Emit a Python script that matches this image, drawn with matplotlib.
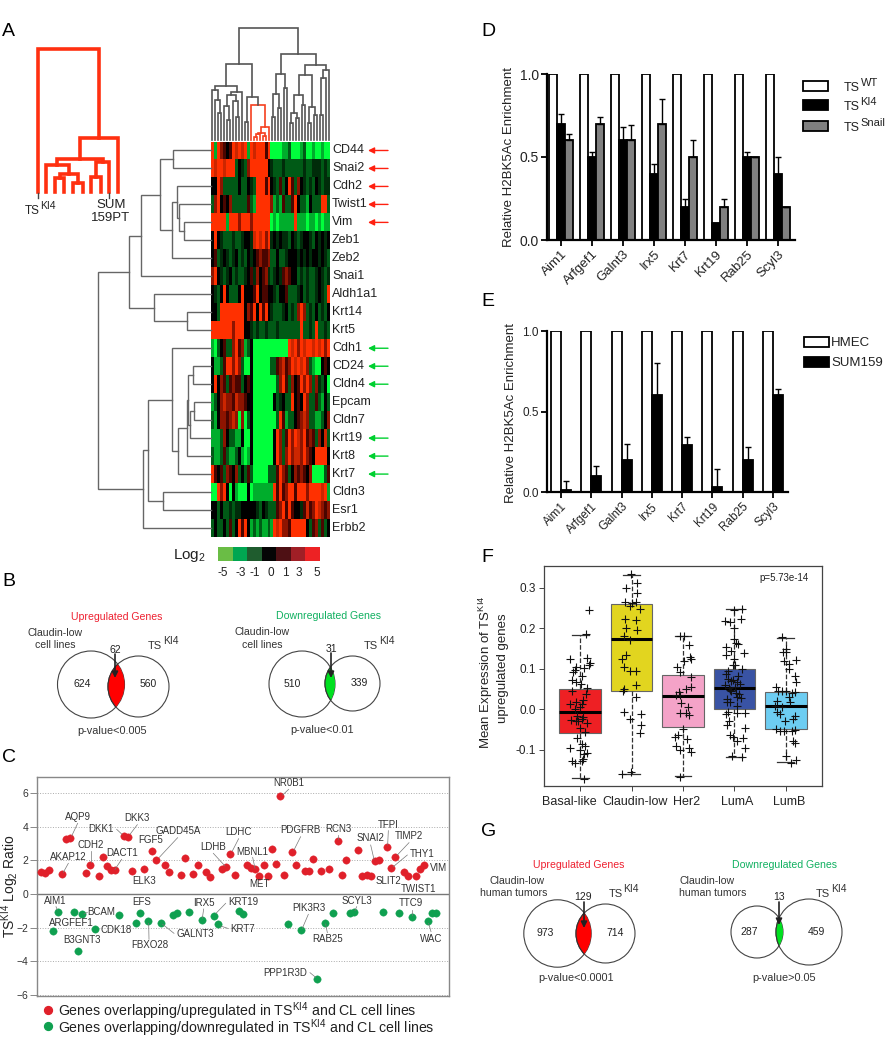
# -*- coding: utf-8 -*-
import matplotlib
matplotlib.use('Agg')
import matplotlib.pyplot as plt
import numpy as np
from matplotlib.colors import ListedColormap, BoundaryNorm
from matplotlib.patches import Circle, Rectangle

plt.rcParams['font.family'] = ['Liberation Sans', 'DejaVu Sans']
plt.rcParams['mathtext.fontset'] = 'custom'
plt.rcParams['mathtext.rm'] = 'Liberation Sans'
plt.rcParams['mathtext.default'] = 'regular'

W, H = 894, 1050
TXT = '#222222'

#%% Panel A data
genes = ['CD44', 'Snai2', 'Cdh2', 'Twist1', 'Vim', 'Zeb1', 'Zeb2', 'Snai1', 'Aldh1a1', 'Krt14', 'Krt5',
         'Cdh1', 'CD24', 'Cldn4', 'Epcam', 'Cldn7', 'Krt19', 'Krt8', 'Krt7', 'Cldn3', 'Esr1', 'Erbb2']
up_arrows = ['CD44', 'Snai2', 'Cdh2', 'Twist1', 'Vim']
down_arrows = ['Cdh1', 'CD24', 'Cldn4', 'Krt19', 'Krt8', 'Krt7']

# one letter per column: A..D greens, 0 black, 1..3 and R reds
heat_rows = [
    'RBR21 01R3R 3RBR3 RRR1R AAAAB BCAAA BCAAB AABAA',
    'R3RR3 RRRC0 DC2RR RRRR0 DCCCD CCCCC CDCCD DDCDC',
    '00R2C CCCC0 CC0DC RRR1R 0DC1C 0R1C2 0DCDC 0DCDD',
    'C2R01 02CCC CC1CB RRRRR 2BCB1 CC1R0 CCB0C CCRRC',
    'RRRRR BRRR2 RRR2R RRRRR ABABB BBBRB BBABB ABABB',
    '0R0DC CCDCC D00D3 R3R2R D0D0D DC0DC D00DC 0D0D0',
    '01CD0 DCD0C DC0D0 12112 CC0CC D000D 0D0D0 0D0DC',
    '2R0DC D0CDC CD01D 2012D CD0D1 2100C DCDCC D0DCD',
    '0DC0R 0CCC0 R0001 R0110 0DC00 1CCCD 0CDCC D0DCR',
    '00CRR RRRRR R021R 0R1R0 DCCCD 0CDC2 R2CDC 0CDC0',
    'RRRRR RR2RR R00DC DCCDC CCDCC CCCCC RCCDC RCCDC',
    'BAC01 CC2R1 2BC0A AAAAA AAAAA AR3R2 R3RR3 R3R2R',
    '0BBC1 RR2R2 CAA0A AAAAA CC123 12R3R 3R2CB AA010',
    '0R021 C1211 C010A AAAAA AAC2R 1C201 R2R2C 2DC0A',
    'BC023 22132 2100A AAAAA A0CD0 CCR01 0R2CC 1CB0C',
    'CB022 1232A 2AC0A AAAAA AACR1 BCC01 232CC BBC02',
    'BBBC2 0CCBB 0AA0A AAAAA A0R2C 1R2R3 2R121 C203C',
    'CBBC1 CBBC0 BAB0A AAAAA A0R2C 2R233 2R210 RRRR0',
    'R101C 2102C 0C1CA AAAAC CC1R2 1C021 2102A AAAC1',
    'AAR2R 0A0BA AA0AB BBBBB BR1R1 2RR1R RR2RR RR3RB',
    '00C0C CDCDD 00000 DC0DC CC12R 1R100 D1312 R3212',
    'C0CC0 C1C0R 1R0BC BCBBC BR3R2 21RRR RR0C1 2C1C0',
]
heat_levels = 'ABCD0123R'
heat_colors = ['#00ff3c', '#00ad2c', '#005a16', '#002c0a', '#000000', '#4a0500', '#8e1400', '#cc2600', '#ff3000']

# dendrogram merges: child a, child b, height in figure pixels
row_merges = [(0, 1, 173), (4, 5, 184), (3, 23, 179), (2, 24, 177), (25, 6, 172), (22, 26, 160), (27, 7, 141),
              (9, 10, 187), (8, 29, 154), (28, 30, 129), (14, 15, 194), (12, 13, 193), (32, 16, 190), (33, 34, 188),
              (35, 17, 187), (36, 18, 178), (11, 37, 172), (19, 20, 163), (38, 39, 148), (40, 21, 143), (31, 41, 98)]
col_merges = [(2, 3, 113), (1, 40, 100), (0, 41, 90), (5, 6, 120), (4, 43, 106), (8, 9, 117), (7, 45, 101),
              (44, 46, 95), (47, 10, 92), (42, 48, 86), (11, 12, 122), (14, 15, 137), (51, 16, 134), (17, 18, 136),
              (52, 53, 133), (54, 19, 127), (13, 55, 105), (50, 56, 97), (49, 57, 64), (20, 21, 117), (22, 23, 108),
              (59, 60, 94), (24, 25, 88), (61, 62, 74), (26, 27, 123), (28, 29, 118), (64, 65, 113), (30, 31, 105),
              (66, 67, 95), (32, 33, 123), (34, 35, 115), (69, 70, 107), (68, 71, 75), (36, 37, 115), (73, 38, 78),
              (74, 39, 70), (72, 75, 65), (63, 76, 54), (58, 77, 28)]
col_red_nodes = [51, 52, 53, 54, 55, 56]
inset_leaves = [38, 46, 55, 64, 73, 83, 91, 101, 109, 118]
inset_merges = [(2, 3, 178), (4, 5, 183), (10, 11, 174), (1, 12, 165), (6, 7, 177), (14, 8, 162), (13, 15, 159),
                (16, 9, 138), (0, 17, 49)]
scale_colors = ['#6abd45', '#00a651', '#1f5c2e', '#050505', '#4e1014', '#a01f26', '#ed2224']
scale_labels = ['-5', '-3', '-1', '0', '1', '3', '5']
scale_label_x = [223, 241, 255, 271, 285, 299, 317]

#%% Panel C data (x = position along the gene list)
up_x = [123, 136, 149, 186, 198, 210, 260, 272, 297, 309, 322, 334, 347, 372, 384, 396, 433, 458, 470, 495, 507, 544,
        557, 581, 594, 618, 631, 668, 680, 692, 705, 742, 754, 767, 779, 792, 804, 816, 828, 841, 853, 878, 890, 915,
        927, 939, 964, 989, 1014, 1026, 1038, 1076, 1088, 1101, 1113, 1125, 1137, 1162, 1175, 1187, 1212, 1224, 1248,
        1261, 1273]
up_y = [1.3, 1.25, 1.4, 1.2, 3.25, 3.3, 1.25, 1.75, 1.05, 2.2, 1.65, 1.45, 1.4, 3.45, 3.4, 1.35, 1.5, 2.55, 2.05, 1.7,
        1.3, 1.15, 2.15, 1.2, 1.7, 1.3, 1.03, 1.5, 1.6, 2.4, 1.15, 1.7, 1.55, 1.5, 1.1, 1.75, 1.1, 2.7, 1.8, 5.8, 1.15,
        2.5, 1.7, 1.35, 1.38, 2.1, 1.35, 1.5, 3.15, 1.15, 2.05, 2.6, 1.1, 1.15, 1.05, 1.95, 2.0, 2.8, 1.55, 2.2, 1.3,
        1.05, 1.05, 1.5, 1.75]
down_x = [161, 174, 223, 236, 248, 285, 359, 408, 421, 446, 483, 519, 532, 569, 606, 643, 656, 717, 730, 866, 903, 952,
          977, 1001, 1050, 1063, 1150, 1199, 1236, 1285, 1298, 1310]
down_y = [-2.2, -1.05, -1.05, -3.4, -1.2, -2.1, -1.25, -1.7, -1.1, -1.6, -1.7, -1.25, -1.12, -1.05, -1.55, -1.3, -1.8,
          -1.03, -1.18, -1.8, -2.15, -5.05, -1.7, -1.1, -1.15, -1.07, -1.05, -1.12, -1.35, -1.6, -1.12, -1.12]
c_labels = [('NR0B1', 866, 128), ('AQP9', 235, 231), ('DKK3', 412, 234), ('DKK1', 303, 268), ('CDH2', 272, 314),
            ('GADD45A', 535, 274), ('FGF5', 453, 299), ('AKAP12', 205, 350), ('DACT1', 365, 339), ('LDHC', 716, 277),
            ('LDHB', 640, 322), ('MBNL1', 756, 335), ('PDGFRB', 901, 271), ('RCN3', 1014, 267), ('TFPI', 1165, 254),
            ('TIMP2', 1227, 288), ('SNAI2', 1111, 295), ('THY1', 1267, 342), ('VIM', 1317, 385), ('ELK3', 433, 424),
            ('MET', 778, 431), ('SLIT2', 1166, 422), ('TWIST1', 1257, 446), ('AIM1', 166, 483), ('EFS', 426, 487),
            ('BCAM', 305, 517), ('IRX5', 611, 489), ('KRT19', 730, 487), ('ARGFEF1', 215, 548), ('CDK18', 347, 569),
            ('B3GNT3', 247, 599), ('GALNT3', 585, 581), ('FBXO28', 448, 616), ('KRT7', 727, 566), ('PIK3R3', 927, 505),
            ('SCYL3', 1070, 483), ('TTC9', 1233, 490), ('RAB25', 982, 598), ('WAC', 1292, 596), ('PPP1R3D', 856, 698)]
c_leaders = [(866, 148, 848, 165), (233, 250, 215, 288), (412, 254, 390, 283), (350, 268, 366, 283),
             (273, 333, 273, 366), (205, 370, 190, 397), (365, 358, 345, 388), (533, 293, 478, 352),
             (716, 296, 697, 333), (640, 340, 675, 378), (758, 352, 765, 385), (902, 290, 882, 330),
             (1014, 284, 1014, 298), (1165, 272, 1163, 315), (1227, 308, 1192, 345), (1112, 315, 1122, 358),
             (1222, 345, 1180, 380), (168, 500, 172, 510), (611, 507, 607, 535), (677, 490, 648, 520),
             (262, 517, 252, 522), (522, 580, 488, 553), (447, 598, 446, 550), (683, 565, 662, 558),
             (925, 523, 907, 565), (1070, 500, 1065, 512), (1236, 510, 1236, 525), (982, 578, 977, 552),
             (1293, 575, 1286, 550), (930, 698, 947, 712)]

#%% Panels D, E data
chip_genes = ['Aim1', 'Arfgef1', 'Galnt3', 'Irx5', 'Krt7', 'Krt19', 'Rab25', 'Scyl3']
d_wt = [1, 1, 1, 1, 1, 1, 1, 1]
d_ki4 = [0.7, 0.5, 0.6, 0.4, 0.2, 0.1, 0.5, 0.4]
d_snail = [0.6, 0.7, 0.6, 0.7, 0.5, 0.2, 0.5, 0.2]
d_ki4_err = [0.06, 0.03, 0.08, 0.06, 0.05, 0, 0.03, 0.1]
d_snail_err = [0.04, 0.04, 0.09, 0.15, 0.1, 0.05, 0, 0]
e_hmec = [1, 1, 1, 1, 1, 1, 1, 1]
e_sum = [0.01, 0.1, 0.2, 0.6, 0.29, 0.03, 0.2, 0.6]
e_sum_err = [0.06, 0.06, 0.1, 0.2, 0.05, 0.11, 0.08, 0.04]

#%% Panel F data
subtypes = ['Basal-like', 'Claudin-low', 'Her2', 'LumA', 'LumB']
sub_colors = ['#ee2024', '#e2d51f', '#f4a3c8', '#3953a4', '#6dcdf2']
sub_label_x = [569, 635, 687, 737, 789]
box_q1 = [-0.06, 0.046, -0.045, 0.0, -0.05]
box_med = [-0.007, 0.173, 0.032, 0.053, 0.007]
box_q3 = [0.05, 0.26, 0.085, 0.1, 0.043]
box_lo = [-0.17, -0.16, -0.166, -0.118, -0.13]
box_hi = [0.183, 0.332, 0.182, 0.247, 0.177]

basal_off = [.17, .12, -.19, .14, .2, .18, -.07, .08, -.1, -.14, .03, -.15, -.07, .01, .14, -.15, .11, .06, -.08, .03,
             -.19, 0, -.1, -.06, .06, .03, -.03, -.07, -.17, .14, 0, .09, -.06, .03, .09, -.2, 0, .14, .07, -.15, -.1,
             .03, .06, .07]
basal_val = [.246, .185, .125, .127, .114, .108, .104, .102, .096, .092, .081, .073, .067, .061, .053, .044, .038, .023,
             .017, .013, .012, .005, .001, -.016, -.02, -.024, -.03, -.03, -.028, -.035, -.047, -.057, -.071, -.086,
             -.092, -.097, -.102, -.109, -.112, -.127, -.134, -.127, -.123, -.172]
claudin_off = [-.01, .11, -.1, .11, -.12, 0, .08, -.02, .17, -.12, .08, -.11, .11, -.14, -.03, -.1, -.19, -.15, -.03,
               .08, .08, -.14, -.16, .08, -.14, .18, -.02, .19, .16, -.01, -.19]
claudin_val = [.333, .312, .3, .287, .266, .262, .265, .254, .248, .222, .22, .201, .195, .182, .172, .135, .123, .104,
               .094, .094, .059, .05, .045, .031, -.006, -.013, -.025, -.039, -.059, -.155, -.16]
her2_off = [.02, -.06, .11, .14, .15, .01, -.11, -.05, .16, .05, -.08, .16, -.13, -.06, -.03, .1, -.05, .12, .06, 0,
            -.16, -.1, .08, -.13, .12, -.06, .16, -.05]
her2_val = [.18, .182, .158, .13, .124, .118, .104, .092, .079, .05, .042, .054, .036, .034, .015, .005, -.01, -.014,
            -.01, -.049, -.068, -.063, -.075, -.092, -.096, -.102, -.107, -.167]
luma_off = [.15, 0, .12, -.19, -.09, -.01, -.01, .03, .07, -.16, -.06, .18, -.17, -.01, -.03, .15, .01, -.16, -.12,
            -.06, .04, -.19, -.1, .01, -.06, .09, .04, -.14, -.09, .05, -.17, -.12, .2, .04, -.1, -.14, .2, -.09, -.03,
            .17, .05, .2, -.04, .14, -.13, .06, -.02, .1, -.08, .03, -.15, .12]
luma_val = [.247, .244, .224, .219, .215, .201, .174, .163, .16, .153, .144, .139, .133, .125, .108, .1, .108, .087,
            .075, .069, .067, .059, .053, .054, .046, .038, .031, .026, .017, .009, -.013, -.007, -.01, -.01, -.03,
            -.04, -.046, -.063, -.069, -.071, -.079, -.096, -.116, -.119, .095, .083, .072, .061, .048, .039, .018,
            .028]
lumb_off = [-.07, 0, -.05, .01, .19, -.04, .05, .05, .18, .19, -.19, -.15, -.08, 0, .11, .18, .05, -.17, .08, -.21,
            -.08, -.17, -.12, .18, .14, -.02, -.19, -.12, -.04, .11, .18, .14, .18, .01, .19, .09]
lumb_val = [.178, .149, .141, .141, .122, .119, .112, .1, .082, .067, .054, .046, .045, .046, .04, .042, .03, .021,
            .017, .009, .005, -.007, -.013, -.018, -.024, -.03, -.049, -.054, -.055, -.053, -.051, -.078, -.084, -.116,
            -.125, -.133]

#%% Helpers
fig = plt.figure(figsize=(W / 100, H / 100), dpi=100, facecolor='white')


def px_axes(l, t, r, b):
    return fig.add_axes([l / W, 1 - b / H, (r - l) / W, (b - t) / H])


over = fig.add_axes([0, 0, 1, 1], zorder=10)
over.set_xlim(0, W)
over.set_ylim(H, 0)
over.axis('off')
over.patch.set_alpha(0)


def txt(x, y, s, size=9, color=TXT, ha='center', va='center', **kw):
    return over.text(x, y, s, fontsize=size, color=color, ha=ha, va=va, **kw)


def ts_label(x, y, sup, size=8.5, sup_size=7.5, color=TXT):
    # TS with a superscript nearly as large as the base text
    t = txt(x, y, 'TS', size=size, ha='left', color=color)
    box = t.get_window_extent(fig.canvas.get_renderer())
    txt(box.x1 + 0.5, y - 5, sup, size=sup_size, ha='left', color=color)


def draw_tree(leaf_pos, merges, base, vertical=True, color='#555555', lw=1.0, red_nodes=(), red='#f04a30'):
    # leaf_pos along the axis, base = height of the leaves
    pos = {i: p for i, p in enumerate(leaf_pos)}
    hgt = {i: base for i in range(len(leaf_pos))}
    n = len(leaf_pos)
    for k, (a, b, h) in enumerate(merges):
        node = n + k
        xs = [pos[a], pos[a], pos[b], pos[b]]
        ys = [hgt[a], h, h, hgt[b]]
        c = red if node in red_nodes else color
        if vertical:
            over.plot(xs, ys, color=c, lw=lw, solid_joinstyle='miter')
        else:
            over.plot(ys, xs, color=c, lw=lw, solid_joinstyle='miter')
        pos[node] = (pos[a] + pos[b]) / 2
        hgt[node] = h


def venn(c1, r1, c2, r2, fill, arrow_x, arrow_top, arrow_tip):
    a = Circle(c1, r1, fc='none', ec='#444444', lw=0.8)
    b = Circle(c2, r2, fc='none', ec='#444444', lw=0.8)
    over.add_patch(a)
    over.add_patch(b)
    lens = Circle(c2, r2, fc=fill, ec='#333333', lw=0.8)
    over.add_patch(lens)
    lens.set_clip_path(Circle(c1, r1, transform=over.transData))
    over.annotate('', xy=(arrow_x, arrow_tip), xytext=(arrow_x, arrow_top),
                  arrowprops=dict(arrowstyle='-|>', color='#222222', lw=1.2, mutation_scale=9,
                                  shrinkA=0, shrinkB=0))


#%% Panel A
for s, lx, ly in [('A', 2, 31), ('B', 2, 582), ('C', 2, 757), ('D', 481, 31), ('E', 481, 302), ('F', 481, 557),
                  ('G', 481, 832)]:
    txt(lx, ly, s, size=14, ha='left', color='black')

heat = np.array([[heat_levels.index(ch) for ch in row.replace(' ', '')] for row in heat_rows])
ax_heat = px_axes(211, 141.5, 330, 537)
ax_heat.imshow(heat, aspect='auto', cmap=ListedColormap(heat_colors),
               norm=BoundaryNorm(np.arange(-0.5, 9.5), 9), interpolation='nearest')
ax_heat.axis('off')

row_h = (537 - 141.5) / len(genes)
row_y = [141.5 + row_h * (i + 0.5) for i in range(len(genes))]
col_x = [211 + 119 / 40 * (i + 0.5) for i in range(40)]
draw_tree(row_y, row_merges, 211, vertical=False, color='#666666', lw=1.0)
draw_tree(col_x, col_merges, 140, color='#555555', lw=1.2, red_nodes=col_red_nodes, red='#f5401f')
draw_tree(inset_leaves, inset_merges, 192, color='#ff3010', lw=2.6)
for lx in [38, 109]:
    over.plot([lx, lx], [193, 198], color='#444444', lw=1)
ts_label(25, 211, 'KI4')
txt(111, 205, 'SUM', size=9.5)
txt(111, 218, '159PT', size=9.5)

for i, g in enumerate(genes):
    txt(332, row_y[i], g, size=9, ha='left')
    if g in up_arrows or g in down_arrows:
        col = '#ff2010' if g in up_arrows else '#00d030'
        over.annotate('', xy=(368, row_y[i]), xytext=(388, row_y[i]),
                      arrowprops=dict(arrowstyle='-|>', color=col, lw=1.0, mutation_scale=9, shrinkA=0, shrinkB=0))

for i, c in enumerate(scale_colors):
    cell = (320 - 218) / len(scale_colors)
    over.add_patch(Rectangle((218 + i * cell, 547), cell, 14, fc=c, ec='none'))
for x, s in zip(scale_label_x, scale_labels):
    txt(x, 573, s, size=8.5)
txt(173, 556, 'Log$_2$', size=11, ha='left')

#%% Panel B
txt(117, 617, 'Upregulated Genes', size=7.6, color='#ee2030')
txt(55, 633, 'Claudin-low', size=7.6, color='#333333')
txt(55, 645, 'cell lines', size=7.6, color='#333333')
ts_label(148, 646, 'KI4', size=8, color='#333333')
venn((91, 684.5), 33.5, (138.5, 686.5), 30.5, '#ff0000', 115, 654, 678)
txt(115, 650, '62', size=7.5)
txt(82, 684, '624', size=7.5)
txt(148, 684, '560', size=7.5)
txt(112, 731, 'p-value<0.005', size=7.8, color='#333333')

txt(328, 616, 'Downregulated Genes', size=7.6, color='#10b060')
txt(262, 632, 'Claudin-low', size=7.6, color='#333333')
txt(262, 645, 'cell lines', size=7.6, color='#333333')
ts_label(364, 646, 'KI4', size=8, color='#333333')
venn((302, 684), 33, (352.5, 683.5), 27.5, '#00e020', 331, 653, 678)
txt(331, 649, '31', size=7.5)
txt(292, 684, '510', size=7.5)
txt(359, 683, '339', size=7.5)
txt(322, 730, 'p-value<0.01', size=7.8, color='#333333')

#%% Panel C
ax_c = px_axes(37, 777, 449, 996)
ax_c.set_xlim(112, 1348)
ax_c.set_ylim(-6.05, 6.95)
for v in [-6, -4, -2, 2, 4, 6]:
    ax_c.axhline(v, color='#aaaaaa', lw=0.7, ls=':', zorder=0)
ax_c.axhline(0, color='#777777', lw=1.0, zorder=1)
ax_c.scatter(up_x, up_y, s=28, color='#e0202a', edgecolor='#e0202a', lw=0.3, zorder=3)
ax_c.scatter(down_x, down_y, s=28, color='#0fa050', edgecolor='#0fa050', lw=0.3, zorder=3)
ax_c.set_xticks([])
ax_c.set_yticks([-6, -4, -2, 0, 2, 4, 6])
ax_c.tick_params(axis='y', labelsize=7.5, length=5, width=0.7, color='#888888', labelcolor='#333333', pad=1)
for sp in ax_c.spines.values():
    sp.set_color('#888888')
    sp.set_linewidth(1.0)
for name, zx, zy in c_labels:
    txt(zx / 3, zy / 3 + 740, name, size=7, color='#333333')
for x0, y0, x1, y1 in c_leaders:
    over.plot([x0 / 3, x1 / 3], [y0 / 3 + 740, y1 / 3 + 740], color='#777777', lw=0.5)
txt(10, 886, 'TS$^{KI4}$ Log$_2$ Ratio', size=10, rotation=90)
over.scatter([48], [1010], s=32, color='#e0202a', zorder=3)
over.scatter([48], [1026], s=32, color='#0fa050', zorder=3)
txt(58, 1011, 'Genes overlapping/upregulated in TS$^{KI4}$ and CL cell lines', size=10.2, ha='left')
txt(58, 1028, 'Genes overlapping/downregulated in TS$^{KI4}$ and CL cell lines', size=10.2, ha='left')

#%% Panel D
ax_d = px_axes(547, 74, 795, 240)
idx = np.arange(len(chip_genes))
w = 8 / 31
ax_d.bar(idx - w, d_wt, w, color='white', edgecolor='black', lw=1.3)
ax_d.bar(idx, d_ki4, w, color='black', edgecolor='black', lw=1.3, yerr=[np.zeros(8), d_ki4_err],
         error_kw=dict(ecolor='black', lw=1, capsize=2.5, capthick=1))
ax_d.bar(idx + w, d_snail, w, color='#808080', edgecolor='black', lw=1.3, yerr=[np.zeros(8), d_snail_err],
         error_kw=dict(ecolor='black', lw=1, capsize=2.5, capthick=1))
ax_d.set_xlim(-0.45, 7.55)
ax_d.set_ylim(0, 1)
ax_d.set_yticks([0, 0.5, 1.0], ['0.0', '0.5', '1.0'])
ax_d.set_xticks(idx, chip_genes, rotation=45, ha='right', rotation_mode='anchor')
ax_d.tick_params(axis='y', labelsize=10)
ax_d.tick_params(axis='x', labelsize=9.5)

ax_e = px_axes(547, 331, 788, 492)
w = 10 / 30.25
ax_e.bar(idx - w / 2, e_hmec, w, color='white', edgecolor='black', lw=1.3)
ax_e.bar(idx + w / 2, e_sum, w, color='black', edgecolor='black', lw=1.3, yerr=[np.zeros(8), e_sum_err],
         error_kw=dict(ecolor='black', lw=1, capsize=2.5, capthick=1))
ax_e.set_xlim(-0.463, 7.5)
ax_e.set_ylim(0, 1)
ax_e.set_yticks([0, 0.5, 1.0], ['0.0', '0.5', '1.0'])
ax_e.set_xticks(idx, chip_genes, rotation=45, ha='right', rotation_mode='anchor')
ax_e.tick_params(axis='both', labelsize=8.5)

for ax in [ax_d, ax_e]:
    ax.spines['top'].set_visible(False)
    ax.spines['right'].set_visible(False)
    ax.spines['left'].set_linewidth(1.6)
    ax.spines['bottom'].set_linewidth(1.6)
    ax.tick_params(axis='both', length=4, width=1.3, pad=2, labelcolor=TXT)

txt(509, 157, 'Relative H2BK5Ac Enrichment', size=9.5, rotation=90)
txt(511, 413, 'Relative H2BK5Ac Enrichment', size=9.5, rotation=90)
for y, fc, s in [(81, 'white', 'WT'), (100, 'black', 'KI4'), (121, '#808080', 'Snail')]:
    over.add_patch(Rectangle((803, y), 25, 10, fc=fc, ec='black', lw=1.3))
    ts_label(844, y + 7, s, size=9, sup_size=8)
for y, fc, s in [(337, 'white', 'HMEC'), (357, 'black', 'SUM159')]:
    over.add_patch(Rectangle((804, y), 25, 10, fc=fc, ec='black', lw=1.3))
    txt(831, y + 6, s, size=9.5, ha='left')

#%% Panel F
ax_f = px_axes(544, 566, 822, 786)
stats = [dict(med=m, q1=a, q3=b, whislo=lo, whishi=hi, fliers=[])
         for m, a, b, lo, hi in zip(box_med, box_q1, box_q3, box_lo, box_hi)]
pos = np.arange(1, 6)
bp = ax_f.bxp(stats, positions=pos, widths=0.8, patch_artist=True, manage_ticks=False, capwidths=0.33,
              boxprops=dict(edgecolor='#666666', lw=0.8),
              medianprops=dict(color='black', lw=2.2),
              whiskerprops=dict(color='#333333', lw=0.9, ls='--'),
              capprops=dict(color='#333333', lw=0.9))
for patch, c in zip(bp['boxes'], sub_colors):
    patch.set_facecolor(c)
for p, off, val in zip(pos, [basal_off, claudin_off, her2_off, luma_off, lumb_off],
                       [basal_val, claudin_val, her2_val, luma_val, lumb_val]):
    ax_f.plot(p + np.array(off), val, '+', color='#111111', ms=6, mew=0.8, zorder=5)
ax_f.set_xlim(0.3, 5.7)
ax_f.set_ylim(-0.19, 0.354)
ax_f.set_xticks(pos, [''] * 5)
ax_f.set_yticks([-0.1, 0, 0.1, 0.2, 0.3], ['-0.1', '0.0', '0.1', '0.2', '0.3'])
ax_f.tick_params(axis='both', labelsize=8.5, length=3.5, width=0.7, labelcolor=TXT, color='#444444', pad=2)
for sp in ax_f.spines.values():
    sp.set_color('#444444')
    sp.set_linewidth(0.9)
for x, s in zip(sub_label_x, subtypes):
    txt(x, 802, s, size=9)
txt(784, 578, 'p=5.73e-14', size=7)
txt(486, 672, 'Mean Expression of TS$^{KI4}$', size=9.5, rotation=90)
txt(503, 668, 'upregulated genes', size=9.5, rotation=90)

#%% Panel G
txt(579, 865, 'Upregulated Genes', size=7.6, color='#ee2030')
txt(517, 881, 'Claudin-low', size=7.6, color='#333333')
txt(514, 893, 'human tumors', size=7.6, color='#333333')
ts_label(609, 894, 'KI4', size=8, color='#333333')
venn((557.5, 933.5), 33.7, (605.5, 933.5), 29.5, '#ff0000', 584, 902, 928)
txt(583, 897, '129', size=7.5)
txt(545, 933, '973', size=7.5)
txt(615, 933, '714', size=7.5)
txt(576, 978, 'p-value<0.0001', size=7.8, color='#333333')

txt(785, 865, 'Downregulated Genes', size=7.6, color='#10b060')
txt(679, 881, 'Claudin-low', size=7.6, ha='left', color='#333333')
txt(679, 893, 'human tumors', size=7.6, ha='left', color='#333333')
ts_label(816, 894, 'KI4', size=8, color='#333333')
venn((757, 932), 26, (809, 932), 33, '#00e020', 779, 902, 925)
txt(779, 897, '13', size=7.5)
txt(749, 932, '287', size=7.5)
txt(816, 932, '459', size=7.5)
txt(784, 978, 'p-value>0.05', size=7.8, color='#333333')

fig.savefig('out.png', dpi=100)
